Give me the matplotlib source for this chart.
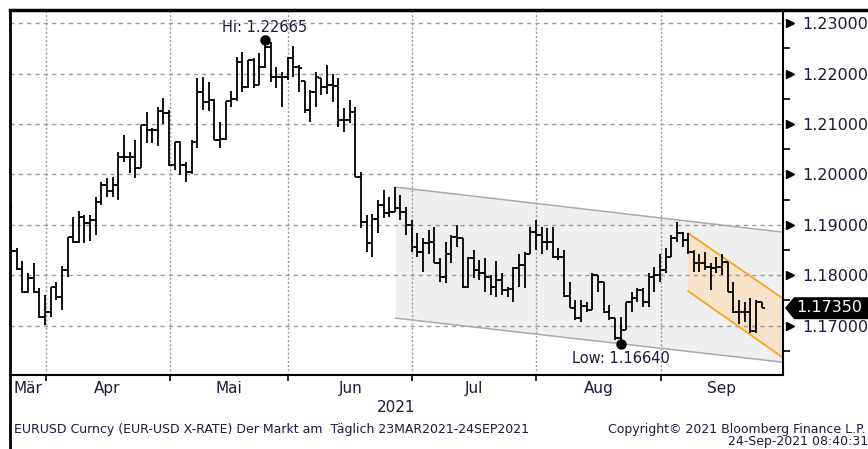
import numpy as np
import pandas as pd
import matplotlib.pyplot as plt
import matplotlib.transforms as mtransforms
from matplotlib.patches import Polygon
from matplotlib.lines import Line2D

# EURUSD daily OHLC, 23 Mar 2021 - 24 Sep 2021
dates = pd.bdate_range("2021-03-23", "2021-09-24")

opens = [1.1935, 1.1848, 1.1812, 1.1766, 1.1794, 1.1766, 1.1717, 1.1727, 1.1776, 1.1757,
         1.1810, 1.1875, 1.1866, 1.1915, 1.1903, 1.1910, 1.1945, 1.1978, 1.1967, 1.1978,
         1.2034, 1.2034, 1.2034, 1.2012, 1.2098, 1.2088, 1.2088, 1.2125, 1.2121, 1.2018,
         1.2064, 1.2018, 1.2004, 1.2064, 1.2163, 1.2143, 1.2147, 1.2068, 1.2070, 1.2145,
         1.2149, 1.2223, 1.2173, 1.2227, 1.2177, 1.2213, 1.2252, 1.2193, 1.2193, 1.2193,
         1.2230, 1.2213, 1.2185, 1.2127, 1.2163, 1.2191, 1.2173, 1.2178, 1.2175, 1.2108,
         1.2108, 1.2124, 1.1995, 1.1905, 1.1863, 1.1912, 1.1940, 1.1923, 1.1925, 1.1933,
         1.1925, 1.1899, 1.1855, 1.1845, 1.1863, 1.1865, 1.1824, 1.1797, 1.1843, 1.1876,
         1.1873, 1.1776, 1.1834, 1.1810, 1.1804, 1.1796, 1.1776, 1.1790, 1.1770, 1.1772,
         1.1814, 1.1820, 1.1843, 1.1885, 1.1879, 1.1866, 1.1866, 1.1837, 1.1837, 1.1758,
         1.1734, 1.1715, 1.1738, 1.1731, 1.1800, 1.1786, 1.1727, 1.1715, 1.1675, 1.1691,
         1.1746, 1.1754, 1.1770, 1.1746, 1.1797, 1.1800, 1.1810, 1.1837, 1.1873, 1.1883,
         1.1869, 1.1846, 1.1824, 1.1824, 1.1816, 1.1814, 1.1816, 1.1826, 1.1767, 1.1727,
         1.1727, 1.1727, 1.1690, 1.1746]
highs = [1.1941, 1.1854, 1.1828, 1.1804, 1.1824, 1.1774, 1.1760, 1.1776, 1.1786, 1.1818,
         1.1875, 1.1915, 1.1927, 1.1919, 1.1919, 1.1955, 1.1984, 1.1992, 1.1994, 1.2044,
         1.2078, 1.2044, 1.2068, 1.2098, 1.2123, 1.2092, 1.2133, 1.2151, 1.2127, 1.2064,
         1.2066, 1.2024, 1.2069, 1.2191, 1.2193, 1.2183, 1.2149, 1.2104, 1.2145, 1.2165,
         1.2233, 1.2242, 1.2227, 1.2230, 1.2240, 1.22665, 1.2262, 1.2213, 1.2203, 1.2233,
         1.2254, 1.2217, 1.2185, 1.2167, 1.2203, 1.2191, 1.2217, 1.2200, 1.2191, 1.2131,
         1.2147, 1.2133, 1.2004, 1.1919, 1.1922, 1.1950, 1.1969, 1.1955, 1.1975, 1.1959,
         1.1935, 1.1909, 1.1883, 1.1873, 1.1889, 1.1895, 1.1834, 1.1866, 1.1879, 1.1899,
         1.1873, 1.1836, 1.1850, 1.1830, 1.1834, 1.1800, 1.1828, 1.1804, 1.1776, 1.1816,
         1.1843, 1.1846, 1.1895, 1.1909, 1.1895, 1.1893, 1.1895, 1.1853, 1.1850, 1.1786,
         1.1750, 1.1750, 1.1746, 1.1804, 1.1800, 1.1786, 1.1740, 1.1715, 1.1717, 1.1746,
         1.1766, 1.1774, 1.1774, 1.1804, 1.1816, 1.1843, 1.1853, 1.1879, 1.1905, 1.1885,
         1.1883, 1.1850, 1.1843, 1.1846, 1.1824, 1.1837, 1.1843, 1.1826, 1.1786, 1.1750,
         1.1746, 1.1754, 1.1750, 1.1746]
lows = [1.1844, 1.1810, 1.1764, 1.1764, 1.1764, 1.1715, 1.1701, 1.1717, 1.1750, 1.1730,
        1.1796, 1.1864, 1.1864, 1.1864, 1.1868, 1.1879, 1.1940, 1.1955, 1.1955, 1.1950,
        1.2024, 1.2002, 1.1992, 1.2012, 1.2062, 1.2062, 1.2056, 1.2100, 1.2016, 1.2008,
        1.1999, 1.1984, 1.2000, 1.2052, 1.2127, 1.2125, 1.2068, 1.2052, 1.2068, 1.2133,
        1.2145, 1.2163, 1.2171, 1.2171, 1.2177, 1.2210, 1.2183, 1.2171, 1.2134, 1.2187,
        1.2193, 1.2163, 1.2121, 1.2104, 1.2134, 1.2157, 1.2160, 1.2144, 1.2094, 1.2084,
        1.2101, 1.1995, 1.1893, 1.1846, 1.1836, 1.1883, 1.1913, 1.1915, 1.1925, 1.1909,
        1.1879, 1.1845, 1.1836, 1.1806, 1.1843, 1.1824, 1.1787, 1.1784, 1.1824, 1.1856,
        1.1774, 1.1774, 1.1794, 1.1790, 1.1767, 1.1760, 1.1756, 1.1760, 1.1756, 1.1746,
        1.1776, 1.1774, 1.1843, 1.1850, 1.1843, 1.1850, 1.1834, 1.1830, 1.1756, 1.1734,
        1.1711, 1.1707, 1.1727, 1.1731, 1.1767, 1.1724, 1.1711, 1.1671, 1.1664, 1.1691,
        1.1727, 1.1746, 1.1737, 1.1737, 1.1767, 1.1786, 1.1804, 1.1837, 1.1866, 1.1856,
        1.1843, 1.1806, 1.1806, 1.1810, 1.1770, 1.1804, 1.1800, 1.1767, 1.1724, 1.1704,
        1.1707, 1.1685, 1.1685, 1.1734]
closes = [1.1848, 1.1812, 1.1766, 1.1794, 1.1766, 1.1717, 1.1727, 1.1776, 1.1757, 1.1810,
          1.1875, 1.1866, 1.1915, 1.1903, 1.1910, 1.1945, 1.1978, 1.1967, 1.1978, 1.2034,
          1.2034, 1.2034, 1.2012, 1.2098, 1.2088, 1.2088, 1.2125, 1.2121, 1.2018, 1.2064,
          1.2018, 1.2004, 1.2064, 1.2163, 1.2143, 1.2147, 1.2068, 1.2070, 1.2145, 1.2149,
          1.2223, 1.2173, 1.2227, 1.2177, 1.2213, 1.2252, 1.2193, 1.2193, 1.2193, 1.2230,
          1.2213, 1.2210, 1.2127, 1.2163, 1.2193, 1.2173, 1.2178, 1.2175, 1.2108, 1.2108,
          1.2124, 1.1995, 1.1905, 1.1863, 1.1912, 1.1940, 1.1923, 1.1925, 1.1933, 1.1925,
          1.1899, 1.1855, 1.1845, 1.1863, 1.1865, 1.1824, 1.1797, 1.1843, 1.1876, 1.1873,
          1.1776, 1.1834, 1.1810, 1.1804, 1.1796, 1.1776, 1.1790, 1.1770, 1.1772, 1.1814,
          1.1820, 1.1843, 1.1885, 1.1879, 1.1866, 1.1866, 1.1837, 1.1837, 1.1758, 1.1734,
          1.1715, 1.1738, 1.1731, 1.1800, 1.1786, 1.1727, 1.1715, 1.1675, 1.1691, 1.1746,
          1.1754, 1.1770, 1.1746, 1.1797, 1.1800, 1.1810, 1.1837, 1.1873, 1.1883, 1.1869,
          1.1846, 1.1824, 1.1824, 1.1816, 1.1814, 1.1816, 1.1826, 1.1767, 1.1727, 1.1727,
          1.1727, 1.1690, 1.1746, 1.1735]

month_names = ["Mär", "Apr", "Mai", "Jun", "Jul", "Aug", "Sep"]
y_ticks = [1.17, 1.18, 1.19, 1.20, 1.21, 1.22, 1.23]
y_minor = [1.165, 1.175, 1.185, 1.195, 1.205, 1.215, 1.225]

hi_value, hi_idx = 1.22665, 45
low_value, low_idx = 1.1664, 108
last_price = 1.1735

# trend channels (bar index, price)
gray_x = [68.2, 136.8]
gray_upper = [1.19746, 1.18853]
gray_lower = [1.17147, 1.16274]
orange_x = [120.0, 136.7]
orange_upper = [1.18833, 1.17544]
orange_lower = [1.17683, 1.16373]

txt = "#1a1a3a"
x = np.arange(len(dates))

fig = plt.figure(figsize=(8.68, 4.49), dpi=100)
ax = fig.add_axes([10 / 868, 74 / 449, 773 / 868, 365 / 449])
ax.set_xlim(-0.2, 136.8)
ax.set_ylim(1.1602, 1.2326)

# channels
ax.add_patch(Polygon([(gray_x[0], gray_upper[0]), (gray_x[1], gray_upper[1]),
                      (gray_x[1], gray_lower[1]), (gray_x[0], gray_lower[0])],
                     closed=True, facecolor="#efefef", edgecolor="none", zorder=0))
ax.plot(gray_x, gray_upper, color="#a9a9a9", lw=1.1, zorder=2)
ax.plot(gray_x, gray_lower, color="#a9a9a9", lw=1.1, zorder=2)
ax.add_patch(Polygon([(orange_x[0], orange_upper[0]), (orange_x[1], orange_upper[1]),
                      (orange_x[1], orange_lower[1]), (orange_x[0], orange_lower[0])],
                     closed=True, facecolor="#f6e3ca", edgecolor="none", zorder=0.5))
ax.plot(orange_x, orange_upper, color="#f5a623", lw=1.3, zorder=2)
ax.plot(orange_x, orange_lower, color="#f5a623", lw=1.3, zorder=2)

# grid
for yv in y_ticks:
    ax.axhline(yv, color="#9a9a9a", lw=1, ls=(0, (3, 3)), zorder=1)
month_first = [int(np.argmax(dates.month == m)) for m in range(4, 10)]
grid_x = [i - 0.9 for i in month_first]
for gx in grid_x:
    ax.axvline(gx, color="#9a9a9a", lw=1, ls=(0, (1.5, 1.5)), zorder=1)

# OHLC bars
ax.vlines(x, lows, highs, color="black", lw=1.3, zorder=4)
ax.hlines(opens, x - 0.6, x, color="black", lw=1.3, zorder=4)
ax.hlines(closes, x, x + 0.6, color="black", lw=1.3, zorder=4)

# high / low markers
ax.plot([hi_idx], [hi_value], "o", color="black", ms=6.5, zorder=5)
ax.plot([low_idx], [low_value], "o", color="black", ms=6.5, zorder=5)
ax.text(hi_idx, 1.2291, "Hi: 1.22665", ha="center", va="center", fontsize=10.5, color=txt)
ax.text(low_idx, 1.1634, "Low: 1.16640", ha="center", va="center", fontsize=10.5, color=txt)

# axes styling
for side in ["left", "top"]:
    ax.spines[side].set_visible(False)
ax.spines["right"].set_linewidth(1.5)
ax.spines["bottom"].set_linewidth(1.5)

ax.yaxis.tick_right()
ax.set_yticks(y_ticks)
ax.set_yticklabels([f"{v:.5f}" for v in y_ticks])
ax.set_yticks(y_minor, minor=True)
ax.tick_params(axis="y", which="major", length=0, pad=14, labelsize=11.5, labelcolor=txt)
ax.tick_params(axis="y", which="minor", length=5, width=1.2, color="black")
trans = mtransforms.blended_transform_factory(ax.transAxes, ax.transData)
ax.plot([1.009] * len(y_ticks), y_ticks, ">", color="black", ms=6, transform=trans,
        clip_on=False, zorder=6)

ax.set_xticks(grid_x)
ax.set_xticklabels([])
ax.tick_params(axis="x", length=4, width=1.2, color="black")

xtrans = mtransforms.blended_transform_factory(ax.transData, ax.transAxes)
bounds = [ax.get_xlim()[0]] + grid_x + [ax.get_xlim()[1]]
for k, name in enumerate(month_names):
    ax.text((bounds[k] + bounds[k + 1]) / 2, -0.036, name, transform=xtrans,
            ha="center", va="center", fontsize=11, color=txt)
ax.text(0.5, -0.09, "2021", transform=ax.transAxes, ha="center", va="center",
        fontsize=11, color=txt)

# current price tag
ax.add_patch(Polygon([(1.0026, last_price), (1.0142, 1.17563), (1.115, 1.17563),
                      (1.115, 1.17127), (1.0142, 1.17127)], closed=True,
                     facecolor="black", edgecolor="none", transform=trans,
                     clip_on=False, zorder=7))
ax.text(1.017, last_price, "1.17350", transform=trans, ha="left", va="center",
        fontsize=11.5, color="white", zorder=8)

# outer frame lines
fig.add_artist(Line2D([10 / 868, 1], [1 - 10 / 449] * 2, transform=fig.transFigure,
                      color="black", lw=2.5))
fig.add_artist(Line2D([10 / 868] * 2, [0, 1 - 10 / 449], transform=fig.transFigure,
                      color="black", lw=2))

# footer
fig.text(14 / 868, 1 - 429 / 449,
         "EURUSD Curncy (EUR-USD X-RATE) Der Markt am  Täglich 23MAR2021-24SEP2021",
         ha="left", va="center", fontsize=9, color=txt)
fig.text(866 / 868, 1 - 429 / 449, "Copyright© 2021 Bloomberg Finance L.P.",
         ha="right", va="center", fontsize=9, color=txt)
fig.text(868 / 868, 1 - 441 / 449, "24-Sep-2021 08:40:31",
         ha="right", va="center", fontsize=9, color=txt)

fig.savefig("out.png", dpi=100)
